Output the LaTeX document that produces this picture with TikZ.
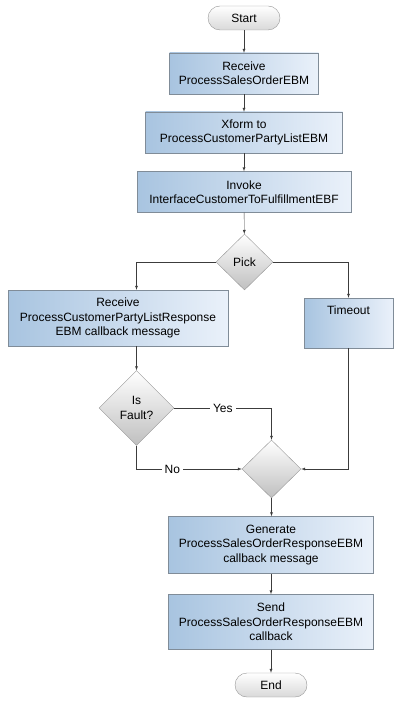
\documentclass[tikz,border=0pt]{standalone}
\usepackage{fontspec}
\setmainfont{Liberation Sans}
\usepackage{xcolor}
\usetikzlibrary{arrows,shapes.geometric}

\definecolor{boxblue}{RGB}{168,196,224}
\definecolor{boxpale}{RGB}{234,241,250}
\definecolor{boxline}{RGB}{128,140,152}
\definecolor{dialine}{RGB}{150,150,150}
\definecolor{flowline}{RGB}{60,60,60}

\begin{document}
\begin{tikzpicture}[x=1pt,y=-1pt,
    every node/.style={font=\fontsize{12}{14.3}\selectfont,align=center},
    stepbox/.style={rectangle,draw=boxline,left color=boxblue,right color=boxpale,
      minimum height=41pt,inner sep=2pt},
    term/.style={rectangle,rounded corners=12pt,draw=dialine,top color=white,
      bottom color=black!15,minimum width=72pt,minimum height=24pt},
    choice/.style={diamond,draw=dialine,shading angle=135,top color=white,
      bottom color=black!25,inner sep=0pt},
    lbl/.style={fill=white,inner sep=3pt},
    flow/.style={draw=flowline,->,>=latex}]
  \useasboundingbox (0,0) rectangle (400,708);

  % main column
  \node[term] (start) at (244,18) {Start};
  \node[stepbox,minimum width=149pt] (rcv) at (244,73.5) {Receive\\ProcessSalesOrderEBM};
  \node[stepbox,minimum width=197pt] (xform) at (244,132.5) {Xform to\\ProcessCustomerPartyListEBM};
  \node[stepbox,minimum width=214pt] (invoke) at (244,192) {Invoke\\InterfaceCustomerToFulfillmentEBF};
  \node[choice,minimum width=57pt,minimum height=56pt] (pick) at (244.5,262) {Pick};

  % branches
  \node[stepbox,minimum width=220pt,minimum height=56pt] (rcvresp) at (118,318)
    {Receive\\ProcessCustomerPartyListResponse\\EBM callback message};
  \node[stepbox,minimum width=89pt,minimum height=50pt,
    label={[anchor=north,yshift=-4pt]north:Timeout}] (timeout) at (348.5,323) {};
  \node[choice,minimum width=75pt,minimum height=75pt] (isfault) at (136.5,408) {Is\\Fault?};
  \node[choice,minimum width=59pt,minimum height=58pt] (merge) at (271.5,469) {};

  % tail
  \node[stepbox,minimum width=205pt,minimum height=57pt] (gen) at (271,545)
    {Generate\\ProcessSalesOrderResponseEBM\\callback message};
  \node[stepbox,minimum width=205pt,minimum height=55pt] (send) at (271,622)
    {Send\\ProcessSalesOrderResponseEBM\\callback};
  \node[term] (end) at (271,685) {End};

  \draw[flow] (start) -- (rcv);
  \draw[flow] (rcv) -- (xform);
  \draw[flow] (xform) -- (invoke);
  \draw[flow] (invoke) -- (pick);
  \draw[flow] (pick.west) -| (rcvresp.north -| isfault.north);
  \draw[flow] (pick.east) -| (timeout.north);
  \draw[flow] (rcvresp.south -| isfault.north) -- (isfault.north);
  \draw[flow] (isfault.east) -- node[lbl]{Yes} (isfault.east -| merge.north) -- (merge.north);
  \draw[flow] (isfault.south) |- node[lbl,pos=0.67]{No} (merge.west);
  \draw[flow] (timeout.south) |- (merge.east);
  \draw[flow] (merge.south) -- (gen.north -| merge.south);
  \draw[flow] (gen) -- (send);
  \draw[flow] (send) -- (end);
\end{tikzpicture}
\end{document}
